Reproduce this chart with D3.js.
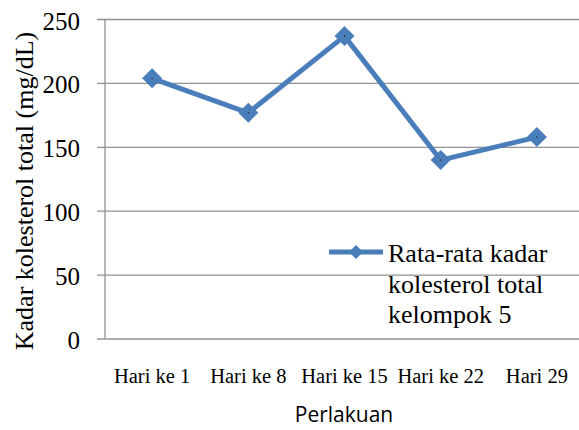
<!DOCTYPE html>
<html>
<head>
    <meta charset="utf-8">
    <title>Kadar kolesterol total</title>
    <style>
        body { margin: 0; background: #fff; }
        svg { display: block; }
        .serif { font-family: "Liberation Serif", "Times New Roman", Times, serif; }
        .sans { font-family: "Open Sans", "Liberation Sans", sans-serif; }
    </style>
</head>
<body>

<main></main>

<script src="https://cdn.jsdelivr.net/npm/d3@7/dist/d3.min.js"></script>
<script>

    // data
    var categories = ["Hari ke 1", "Hari ke 8", "Hari ke 15", "Hari ke 22", "Hari 29"];
    var values = [204, 177, 237, 140, 158];
    var yTicks = [0, 50, 100, 150, 200, 250];
    var seriesName = ["Rata-rata kadar", "kolesterol total", "kelompok 5"];

    var width = 579;
    var height = 430;
    var blue = "#4A7EBB";
    var gridColor = "#919191";

    var svg = d3.select("main")
        .append("svg")
        .attr("width", width)
        .attr("height", height);

    // scales
    var x = d3.scalePoint()
        .domain(categories)
        .range([104, 585])
        .padding(0.5);

    var y = d3.scaleLinear()
        .domain([0, 250])
        .range([339, 19.5]);

    // gridlines + y ticks
    svg.append("g")
        .selectAll("line")
        .data(yTicks)
        .enter()
        .append("line")
        .attr("x1", 97)
        .attr("x2", width)
        .attr("y1", function (d) { return y(d); })
        .attr("y2", function (d) { return y(d); })
        .attr("stroke", gridColor)
        .attr("stroke-width", 1.3);

    // y axis line
    svg.append("line")
        .attr("x1", 105).attr("x2", 105)
        .attr("y1", y(250)).attr("y2", y(0))
        .attr("stroke", gridColor)
        .attr("stroke-width", 1.3);

    // y tick labels
    svg.append("g")
        .selectAll("text")
        .data(yTicks)
        .enter()
        .append("text")
        .attr("class", "serif")
        .attr("x", 80)
        .attr("y", function (d) { return y(d) + 10; })
        .attr("text-anchor", "end")
        .attr("font-size", "25px")
        .attr("fill", "#000")
        .text(function (d) { return d; });

    // x tick labels
    svg.append("g")
        .selectAll("text")
        .data(categories)
        .enter()
        .append("text")
        .attr("class", "serif")
        .attr("x", function (d) { return x(d); })
        .attr("y", 383)
        .attr("text-anchor", "middle")
        .attr("font-size", "20.5px")
        .attr("fill", "#000")
        .text(function (d) { return d; });

    // axis titles
    svg.append("text")
        .attr("class", "serif")
        .attr("transform", "translate(33,191) rotate(-90)")
        .attr("text-anchor", "middle")
        .attr("font-size", "26px")
        .attr("fill", "#000")
        .text("Kadar kolesterol total (mg/dL)");

    svg.append("text")
        .attr("class", "sans")
        .attr("x", 344)
        .attr("y", 422)
        .attr("text-anchor", "middle")
        .attr("font-size", "21px")
        .attr("fill", "#000")
        .text("Perlakuan");

    // line
    var line = d3.line()
        .x(function (d, i) { return x(categories[i]); })
        .y(function (d) { return y(d); });

    svg.append("path")
        .datum(values)
        .attr("d", line)
        .attr("fill", "none")
        .attr("stroke", blue)
        .attr("stroke-width", 5)
        .attr("stroke-linejoin", "round");

    // diamond markers
    var diamond = d3.symbol().type(d3.symbolSquare).size(200);

    var markers = svg.append("g")
        .selectAll("g")
        .data(values)
        .enter()
        .append("g")
        .attr("transform", function (d, i) {
            return "translate(" + x(categories[i]) + "," + y(d) + ")";
        });

    markers.append("path")
        .attr("d", diamond)
        .attr("transform", "rotate(45)")
        .attr("fill", blue);

    markers.append("rect")
        .attr("x", -0.5).attr("y", -0.5)
        .attr("width", 1).attr("height", 1)
        .attr("fill", "#000");

    // legend
    var legend = svg.append("g");

    legend.append("line")
        .attr("x1", 329).attr("x2", 383)
        .attr("y1", 252).attr("y2", 252)
        .attr("stroke", blue)
        .attr("stroke-width", 5);

    legend.append("path")
        .attr("d", d3.symbol().type(d3.symbolSquare).size(100))
        .attr("transform", "translate(356,252) rotate(45)")
        .attr("fill", blue);

    legend.selectAll("text")
        .data(seriesName)
        .enter()
        .append("text")
        .attr("class", "serif")
        .attr("x", 388)
        .attr("y", function (d, i) { return 262 + i * 30.5; })
        .attr("font-size", "26px")
        .attr("fill", "#000")
        .text(function (d) { return d; });

</script>
</body>
</html>
